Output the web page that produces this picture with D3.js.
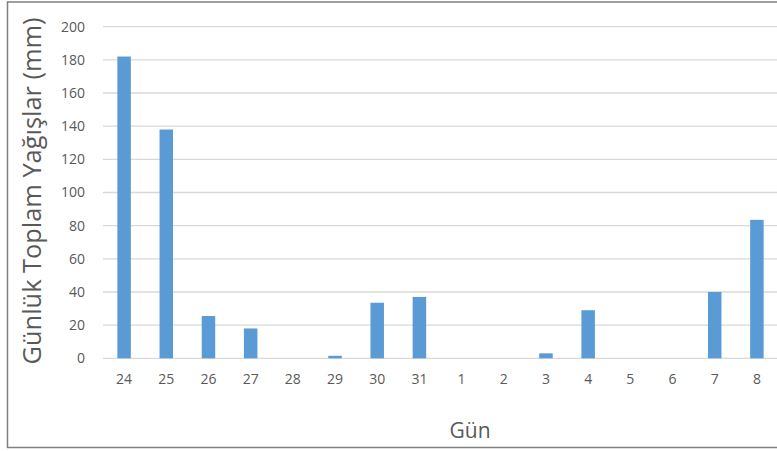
<!DOCTYPE html>
<html>
<head>
<meta charset="utf-8">
<script src="https://cdn.jsdelivr.net/npm/d3@7"></script>
<style>
  html, body { margin: 0; padding: 0; background: #fff; }
  svg { display: block; }
  text { font-family: "Open Sans", "Liberation Sans", sans-serif; }
</style>
</head>
<body>
<svg id="chart" width="777" height="451"></svg>
<script>
// Daily total precipitation per day
const days = ["24", "25", "26", "27", "28", "29", "30", "31", "1", "2", "3", "4", "5", "6", "7", "8"];
const rainfall = [182, 138, 25.5, 18, 0, 1.5, 33.5, 37, 0, 0, 3, 29, 0, 0, 40, 83.5];
const yTicks = [0, 20, 40, 60, 80, 100, 120, 140, 160, 180, 200];
const yTitle = "Günlük Toplam Yağışlar (mm)";
const xTitle = "Gün";

const svg = d3.select("#chart");
const W = 777, H = 451;
const plot = { left: 103, right: 778, top: 26.7, bottom: 358.3 };

// outer frame
svg.append("rect")
  .attr("x", 7.5).attr("y", 2)
  .attr("width", W).attr("height", 445.5)
  .attr("fill", "#fff")
  .attr("stroke", "#808080")
  .attr("stroke-width", 1.5);

const x = d3.scaleBand()
  .domain(days)
  .range([plot.left, plot.right])
  .paddingInner(0.68)
  .paddingOuter(0.34);

const y = d3.scaleLinear()
  .domain([0, 200])
  .range([plot.bottom, plot.top]);

// horizontal gridlines
svg.append("g")
  .selectAll("line")
  .data(yTicks)
  .join("line")
  .attr("x1", plot.left).attr("x2", W)
  .attr("y1", d => y(d)).attr("y2", d => y(d))
  .attr("stroke", "#d9d9d9")
  .attr("stroke-width", 1.3);

// y axis labels
const yAxis = svg.append("g")
  .attr("transform", `translate(${plot.left},0)`)
  .call(d3.axisLeft(y).tickValues(yTicks).tickSize(0).tickPadding(18));
yAxis.select(".domain").remove();
yAxis.selectAll("text")
  .attr("fill", "#595959")
  .style("font-size", "14px");

// bars
svg.append("g")
  .selectAll("rect")
  .data(days.map((d, i) => ({ day: d, value: rainfall[i] })))
  .join("rect")
  .attr("x", d => x(d.day))
  .attr("y", d => y(d.value))
  .attr("width", x.bandwidth())
  .attr("height", d => y(0) - y(d.value))
  .attr("fill", "#5b9bd5");

// x axis labels
const xAxis = svg.append("g")
  .attr("transform", `translate(0,${plot.bottom})`)
  .call(d3.axisBottom(x).tickSize(0).tickPadding(16));
xAxis.select(".domain").remove();
xAxis.selectAll("text")
  .attr("fill", "#595959")
  .style("font-size", "14px");

// axis titles
const yt = svg.append("text")
  .attr("transform", "translate(41,191) rotate(-90)")
  .attr("text-anchor", "middle")
  .attr("fill", "#595959")
  .style("font-size", "20px")
  .text(yTitle);
const len = yt.node().getComputedTextLength();
yt.style("font-size", (20 * 347 / len).toFixed(2) + "px");

svg.append("text")
  .attr("x", 470).attr("y", 438)
  .attr("text-anchor", "middle")
  .attr("fill", "#595959")
  .style("font-size", "21px")
  .text(xTitle);
</script>
</body>
</html>
